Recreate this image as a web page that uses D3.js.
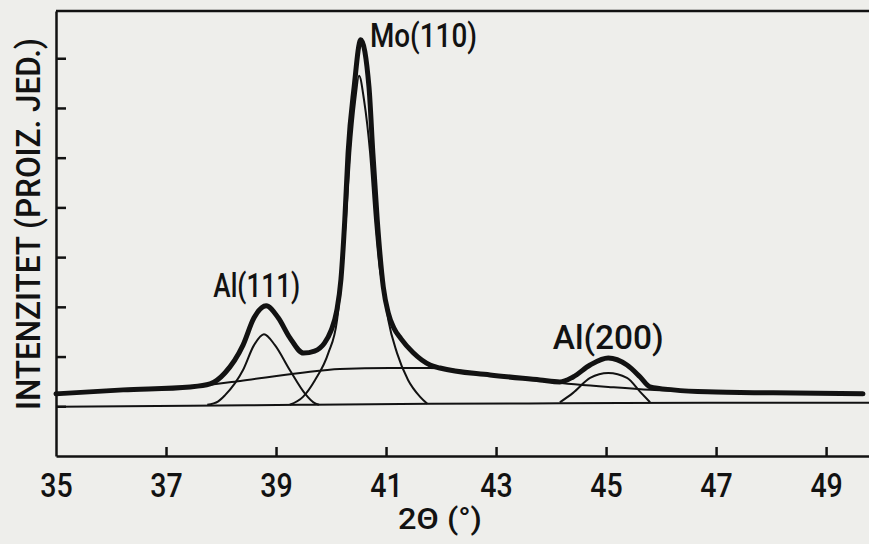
<!DOCTYPE html>
<html><head><meta charset="utf-8">
<script src="https://cdn.jsdelivr.net/npm/d3@7"></script>
<style>
html,body{margin:0;padding:0;background:#eeeeeb;}
svg{display:block;}
text{font-family:Roboto,"DejaVu Sans",sans-serif;font-weight:500;fill:#121212;}
</style></head>
<body>
<svg id="chart" width="869" height="544"></svg>
<script>
// ---- data (2θ in degrees, intensity in arbitrary units) ----
const xTicks = [35, 37, 39, 41, 43, 45, 47, 49];
const yTicks = [1, 2, 3, 4, 5, 6, 7, 8];
const xTitle = "2Θ (°)";
const yTitle = "INTENZITET (PROIZ. JED.)";

const measured = [[35.0,1.25],[36.22,1.33],[37.44,1.39],[37.8,1.45],[38.07,1.67],[38.4,2.23],[38.6,2.78],[38.82,3.02],[39.04,2.78],[39.25,2.38],[39.5,2.07],[39.7,2.11],[39.88,2.27],[40.0,2.52],[40.1,2.9],[40.18,3.55],[40.25,4.75],[40.31,6.10],[40.42,7.42],[40.54,8.37],[40.69,7.42],[40.76,6.10],[40.84,4.75],[40.95,3.40],[41.04,2.88],[41.14,2.58],[41.27,2.36],[41.49,2.08],[41.8,1.83],[41.98,1.77],[42.89,1.63],[43.8,1.53],[44.16,1.49],[44.4,1.59],[44.71,1.83],[45.04,1.97],[45.38,1.83],[45.62,1.59],[45.8,1.39],[46.22,1.33],[46.84,1.29],[48.04,1.27],[49.67,1.25]];
const amorphous = [[35.0,1.25],[36.22,1.33],[37.44,1.39],[38.35,1.51],[39.44,1.67],[40.16,1.75],[41.07,1.77],[41.8,1.77],[42.89,1.63],[43.98,1.49],[45.04,1.39],[45.8,1.33],[46.84,1.29],[48.16,1.27],[49.67,1.25]];
const background = [[35.0,0.99],[37.44,1.01],[39.44,1.03],[41.8,1.05],[44.16,1.06],[46.84,1.07],[49.78,1.07]];
const al111 = [[37.75,1.03],[37.95,1.1],[38.07,1.22],[38.4,1.73],[38.6,2.23],[38.78,2.45],[38.98,2.23],[39.25,1.73],[39.53,1.25],[39.68,1.08],[39.78,1.03]];
const mo110 = [[39.25,1.03],[39.49,1.19],[39.71,1.53],[39.95,2.07],[40.11,2.74],[40.2,3.74],[40.27,4.75],[40.35,6.10],[40.44,7.16],[40.51,7.65],[40.6,7.16],[40.71,6.10],[40.8,4.75],[40.89,3.74],[40.95,3.40],[41.04,2.74],[41.2,2.07],[41.4,1.53],[41.62,1.19],[41.75,1.05]];
const al200 = [[44.16,1.08],[44.4,1.27],[44.71,1.57],[45.04,1.67],[45.38,1.57],[45.62,1.29],[45.8,1.08]];
const peakLabels = [
  {text:"Al(111)", x:38.65, y:3.2, len:87},
  {text:"Mo(110)", x:41.68, y:8.22, len:107},
  {text:"Al(200)", x:45.04, y:2.15, len:111}
];

// ---- layout ----
const W = 869, H = 544;
const m = {left:56, right:0, top:11, bottom:88};
const svg = d3.select("#chart");
const x = d3.scaleLinear().domain([35, 49.78]).range([m.left, W - m.right]);
const y = d3.scaleLinear().domain([0, 8.95]).range([H - m.bottom, m.top]);
const ink = "#121212";

const line = d3.line().x(d => x(d[0])).y(d => y(d[1])).curve(d3.curveMonotoneX);

// frame: top line
svg.append("line").attr("x1", x(35)).attr("x2", W).attr("y1", y(8.95)).attr("y2", y(8.95))
  .attr("stroke", ink).attr("stroke-width", 2.5);

// x axis
const xAxis = svg.append("g").attr("transform", `translate(0,${H - m.bottom})`)
  .call(d3.axisBottom(x).tickValues(xTicks).tickSizeInner(-9).tickSizeOuter(0).tickPadding(17));
xAxis.select(".domain").attr("stroke", ink).attr("stroke-width", 2.5);
xAxis.selectAll(".tick line").attr("stroke", ink).attr("stroke-width", 2.5)
  .filter(d => d === 35).remove();
xAxis.selectAll(".tick text").attr("font-size", 34).attr("fill", ink)
  .attr("font-family", "Roboto, sans-serif").attr("font-weight", 500)
  .attr("transform", "scale(0.84,1)");

// y axis
const yAxis = svg.append("g").attr("transform", `translate(${m.left},0)`)
  .call(d3.axisLeft(y).tickValues(yTicks).tickSizeInner(-10).tickSizeOuter(0).tickFormat(""));
yAxis.select(".domain").attr("stroke", ink).attr("stroke-width", 2.5);
yAxis.selectAll(".tick line").attr("stroke", ink).attr("stroke-width", 2.5);

// titles
svg.append("text").attr("x", 398).attr("y", 529)
  .attr("font-size", 30).attr("textLength", 84).attr("lengthAdjust", "spacingAndGlyphs").text(xTitle);
svg.append("text").attr("transform", `translate(40,410) rotate(-90)`)
  .attr("font-size", 33).attr("textLength", 372).attr("lengthAdjust", "spacingAndGlyphs").text(yTitle);

// curves
const thin = [background, amorphous, al111, mo110, al200];
svg.append("g").selectAll("path").data(thin).join("path")
  .attr("d", line).attr("fill", "none").attr("stroke", ink).attr("stroke-width", 2)
  .attr("stroke-linejoin", "round");
svg.append("path").attr("d", line(measured)).attr("fill", "none").attr("stroke", ink)
  .attr("stroke-width", 5).attr("stroke-linejoin", "round").attr("stroke-linecap", "round");

// peak labels
svg.append("g").selectAll("text").data(peakLabels).join("text")
  .attr("x", d => x(d.x)).attr("y", d => y(d.y)).attr("text-anchor", "middle")
  .attr("font-size", 33).attr("textLength", d => d.len).attr("lengthAdjust", "spacingAndGlyphs")
  .text(d => d.text);
</script>
</body></html>
